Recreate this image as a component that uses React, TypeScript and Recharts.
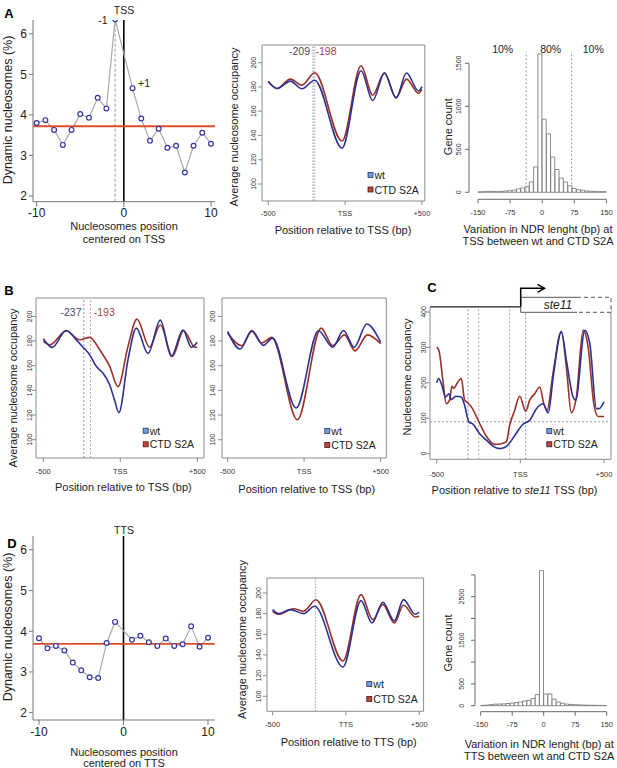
import React from 'react';
import { LineChart, BarChart, Line, Bar, XAxis, YAxis, ReferenceLine, ReferenceArea } from 'recharts';

const FONT = '"Liberation Sans", Arial, Helvetica, sans-serif';
const WT = '#2c3192';
const S2A = '#9a3027';
const MEAN = '#dc4b2c';
const BOX = '#8c8c8c';
const INK = '#333';
const DOT_BLUE = '#8a8ad4';
const DOT_RED = '#d69a90';

// dynamic nucleosomes (%) by nucleosome position around TSS / TTS
const nucPos = [-10, -9, -8, -7, -6, -5, -4, -3, -2, -1, 1, 2, 3, 4, 5, 6, 7, 8, 9, 10];
const dynTss = [3.8, 3.87, 3.63, 3.26, 3.63, 4.02, 3.93, 4.42, 4.16, 6.36, 4.66, 3.91, 3.36, 3.66, 3.19, 3.24, 2.58, 3.24, 3.56, 3.29];
const dynTts = [3.83, 3.58, 3.64, 3.53, 3.23, 3.04, 2.87, 2.85, 3.71, 4.23, 3.79, 3.89, 3.73, 3.64, 3.82, 3.64, 3.68, 4.12, 3.62, 3.84];
const meanTss = 3.72;
const meanTts = 3.69;

// A: average occupancy around TSS
const tssPos = [-500, -443, -357, -281, -198, -20, 104, 180, 256, 332, 400, 478, 500];
const tssWt = [184.5, 178.7, 184.8, 178.5, 185.6, 129.6, 193.4, 168.8, 191.4, 171, 191.5, 176.7, 180.3];
const tssS2a = [184.5, 178.7, 186.5, 181.5, 191.7, 135.4, 197.5, 173.2, 191.7, 171, 186.5, 174.8, 178.1];

// B left
const b1WtPos = [-500, -442, -351, -286, -242, -200, -156, -113, -69, -37, -9, 50, 104, 180, 260, 331, 407, 461, 500];
const b1Wt = [181.9, 174.9, 188.6, 181, 175, 169, 159.5, 154, 144.6, 132, 122, 165, 190.5, 170, 197, 167.6, 189, 175, 179];
const b1S2aPos = [-500, -457, -351, -264, -199, -134, -69, -15, 50, 108, 190, 260, 338, 411, 485, 500];
const b1S2a = [179.7, 177, 188.4, 181, 183, 173, 159.5, 143, 175.7, 197.8, 175, 193, 167.6, 188.4, 175, 175];

// B right
const b2WtPos = [-500, -418, -342, -266, -207, -52, 94, 187, 257, 327, 410, 500];
const b2Wt = [187.8, 173.5, 188.6, 176.5, 182.4, 125.7, 188.4, 175, 188.6, 175, 193.8, 179];
const b2S2aPos = [-500, -407, -342, -277, -211, -44, 111, 187, 264, 333, 414, 500];
const b2S2a = [186.5, 176.2, 187.8, 178.4, 183, 116.2, 190.5, 176.2, 185, 172, 185, 177.8];

// C: ste11
const cWtPos = [-500, -489, -469, -447, -427, -413, -387, -353, -333, -307, -283, -243, -203, -164, -124, -94, -64, -24, 16, 56, 96, 136, 166, 199, 245, 275, 315, 331, 385, 415, 455, 470, 500];
const cWt = [200, 212, 193, 160, 169, 152, 162, 160, 136, 89, 83, 56, 38, 21, 14, 17, 30, 58, 83, 94, 127, 141, 115, 226, 344, 264, 160, 151, 348, 311, 127, 127, 146];
const cS2aPos = [-500, -487, -463, -443, -423, -409, -397, -379, -353, -333, -313, -293, -243, -203, -154, -114, -84, -64, -34, -4, 32, 56, 86, 116, 140, 160, 195, 245, 275, 305, 335, 375, 405, 439, 465, 500];
const cS2a = [301, 292, 207, 141, 151, 190, 184, 198, 212, 151, 143, 132, 85, 49, 26, 28, 33, 80, 122, 162, 120, 151, 169, 188, 141, 122, 226, 345, 245, 115, 160, 348, 301, 141, 105, 105];

// D: average occupancy around TTS
const ttsWtPos = [-500, -459, -379, -289, -214, -20, 103, 178, 252, 330, 393, 473, 500];
const ttsWt = [183.9, 180, 183.9, 180, 187.1, 128.4, 192.6, 171, 191, 173, 193.6, 179.4, 181.6];
const ttsS2aPos = [-500, -459, -357, -289, -204, -20, 103, 184, 252, 330, 393, 473, 500];
const ttsS2a = [182.3, 179.4, 184.8, 182.3, 193.5, 134.2, 198.4, 174.2, 189, 171, 188.1, 176.8, 177.4];

// histograms of NDR length variation (10 bp bins, centres)
const histBins = [-145, -135, -125, -115, -105, -95, -85, -75, -65, -55, -45, -35, -25, -15, -5, 5, 15, 25, 35, 45, 55, 65, 75, 85, 95, 105, 115, 125, 135, 145];
const histTss = [5, 8, 12, 10, 8, 10, 15, 18, 25, 40, 50, 70, 120, 295, 1610, 850, 680, 410, 265, 165, 120, 75, 45, 30, 25, 15, 12, 10, 8, 8];
const histTts = [8, 12, 25, 35, 38, 42, 50, 60, 72, 85, 110, 120, 165, 255, 3100, 270, 270, 150, 85, 55, 38, 28, 22, 18, 15, 12, 10, 8, 6, 5];
const tssCuts = [-37.5, 68.7];

const profTicks = [-500, 0, 500];
const histXTicks = [-150, -75, 0, 75, 150];

type Frame = { x0: number; x1: number; y0: number; y1: number; xd: [number, number]; yd: [number, number] };
type Mark = { x?: number; y?: number; color: string; dash: string };

const PAD = { l: 44, t: 20, r: 8, b: 34 };

function place(f: Frame) {
  return {
    style: { position: 'absolute' as const, left: f.x0 - PAD.l, top: f.y0 - PAD.t },
    width: f.x1 - f.x0 + PAD.l + PAD.r,
    height: f.y1 - f.y0 + PAD.t + PAD.b,
    margin: { top: PAD.t, right: PAD.r, bottom: 0, left: 0 },
  };
}

const pts = (xs: number[], ys: number[]) => xs.map((x, i) => ({ x, y: ys[i] }));

function rotTick(offset: number, size: number, show?: (v: number) => boolean) {
  return (p: any) => {
    const v = p.payload.value;
    if (show && !show(v)) return <g />;
    const x = p.x - offset;
    return (
      <text x={x} y={p.y} transform={`rotate(-90 ${x} ${p.y})`} textAnchor="middle" dy="0.35em" fontSize={size} fill={INK} fontFamily={FONT}>
        {v}
      </text>
    );
  };
}

const posLabel = (v: number, center: string) => (v === 0 ? center : v > 0 ? `+${v}` : `${v}`);

function ProfilePanel({ f, wt, s2a, center, yTicks, rotOff, xMargin, marks }: {
  f: Frame; wt: { x: number; y: number }[]; s2a: { x: number; y: number }[]; center: string;
  yTicks: number[]; rotOff: number; xMargin: number; marks: Mark[];
}) {
  const p = place(f);
  return (
    <div style={p.style}>
      <LineChart width={p.width} height={p.height} margin={p.margin}>
        <XAxis type="number" dataKey="x" domain={f.xd} allowDataOverflow ticks={profTicks} interval={0}
          height={PAD.b} axisLine={false} stroke={BOX} tickSize={4} tickMargin={xMargin}
          tickFormatter={(v: number) => posLabel(v, center)} tick={{ fontSize: 7.5, fill: INK, fontFamily: FONT }} />
        <YAxis type="number" domain={f.yd} allowDataOverflow ticks={yTicks} interval={0} width={PAD.l}
          axisLine={false} stroke={BOX} tickSize={4} tickMargin={2} tick={rotTick(rotOff, 7)} />
        <ReferenceArea x1={f.xd[0]} x2={f.xd[1]} y1={f.yd[0]} y2={f.yd[1]} fill="none" fillOpacity={0}
          stroke={BOX} strokeWidth={1} ifOverflow="visible" />
        {marks.map((m, i) =>
          m.x !== undefined ? (
            <ReferenceLine key={i} x={m.x} stroke={m.color} strokeDasharray={m.dash} strokeWidth={1} />
          ) : (
            <ReferenceLine key={i} y={m.y} stroke={m.color} strokeDasharray={m.dash} strokeWidth={1} />
          )
        )}
        <Line data={s2a} dataKey="y" type="monotone" stroke={S2A} strokeWidth={1.6} dot={false} isAnimationActive={false} />
        <Line data={wt} dataKey="y" type="monotone" stroke={WT} strokeWidth={1.6} dot={false} isAnimationActive={false} />
      </LineChart>
    </div>
  );
}

function DynPanel({ f, vals, mean, dash }: { f: Frame; vals: number[]; mean: number; dash: boolean }) {
  const p = place(f);
  const data = pts(nucPos, vals);
  return (
    <div style={p.style}>
      <LineChart data={data} width={p.width} height={p.height} margin={p.margin}>
        <XAxis type="number" dataKey="x" domain={f.xd} allowDataOverflow ticks={[-10, 0, 10]} interval={0}
          height={PAD.b} stroke="#777" tickSize={5} tickMargin={2} tick={{ fontSize: 12, fill: '#222', fontFamily: FONT }} />
        <YAxis type="number" domain={f.yd} allowDataOverflow ticks={[2, 3, 4, 5, 6]} interval={0} width={PAD.l}
          stroke="#777" tickSize={4} tickMargin={2} tick={{ fontSize: 12, fill: '#222', fontFamily: FONT }} />
        <ReferenceLine x={0} stroke="#000" strokeWidth={1.6} />
        {dash && (
          <ReferenceLine segment={[{ x: -1, y: f.yd[0] }, { x: -1, y: 6.25 }]} stroke="#999" strokeDasharray="3 2" ifOverflow="visible" />
        )}
        <Line dataKey="y" type="linear" stroke="#a9a9a9" strokeWidth={1.2} isAnimationActive={false}
          dot={{ r: 2.4, stroke: '#3535a8', strokeWidth: 1.2, fill: '#fff' }} />
        <ReferenceLine y={mean} stroke={MEAN} strokeWidth={1.8} />
      </LineChart>
    </div>
  );
}

function HistPanel({ f, counts, yTicks, yTop, rotOff, showY, cuts, cutTop }: {
  f: Frame; counts: number[]; yTicks: number[]; yTop: number; rotOff: number;
  showY: (v: number) => boolean; cuts: number[]; cutTop: number;
}) {
  const p = place(f);
  const data = histBins.map((x, i) => ({ x, n: counts[i] }));
  return (
    <div style={p.style}>
      <BarChart data={data} width={p.width} height={p.height} margin={p.margin} barCategoryGap={0} barGap={0}>
        <XAxis type="number" dataKey="x" domain={f.xd} allowDataOverflow ticks={histXTicks} interval={0}
          height={PAD.b} axisLine={false} stroke="#666" tickSize={4} tickMargin={6}
          tick={{ fontSize: 7.5, fill: INK, fontFamily: FONT }} />
        <YAxis type="number" domain={f.yd} allowDataOverflow ticks={yTicks} interval={0} width={PAD.l}
          axisLine={false} stroke="#666" tickSize={4} tickMargin={2} tick={rotTick(rotOff, 7, showY)} />
        <ReferenceLine segment={[{ x: -150, y: f.yd[0] }, { x: 150, y: f.yd[0] }]} stroke="#666" ifOverflow="visible" />
        <ReferenceLine segment={[{ x: f.xd[0], y: 0 }, { x: f.xd[0], y: yTop }]} stroke="#666" ifOverflow="visible" />
        <Bar dataKey="n" fill="#fff" stroke="#707070" strokeWidth={0.8} isAnimationActive={false} />
        {cuts.map((c) => (
          <ReferenceLine key={c} segment={[{ x: c, y: 0 }, { x: c, y: cutTop }]} stroke="#999" strokeDasharray="2 2" ifOverflow="visible" />
        ))}
      </BarChart>
    </div>
  );
}

const fDynA: Frame = { x0: 33, x1: 215, y0: 20, y1: 201.7, xd: [-10.42, 10.46], yd: [1.86, 6.34] };
const fDynD: Frame = { x0: 33.3, x1: 215, y0: 536, y1: 720, xd: [-10.71, 10.79], yd: [1.82, 6.34] };
const fProfA: Frame = { x0: 261.7, x1: 424.5, y0: 45, y1: 201, xd: [-541, 519], yd: [86, 214.6] };
const fProfB1: Frame = { x0: 36, x1: 204, y0: 298.3, y1: 458.3, xd: [-547.4, 543.5], yd: [85.2, 214.9] };
const fProfB2: Frame = { x0: 221.7, x1: 386, y0: 298.3, y1: 458.3, xd: [-536.6, 537.3], yd: [85.2, 214.9] };
const fProfC: Frame = { x0: 430, x1: 611, y0: 306.7, y1: 459, xd: [-540, 541.8], yd: [-16.1, 414.1] };
const fProfD: Frame = { x0: 266.7, x1: 423.3, y0: 577.7, y1: 711, xd: [-538.2, 530], yd: [85.5, 214.5] };
const fHistA: Frame = { x0: 469.3, x1: 614, y0: 40, y1: 199.3, xd: [-171, 167], yd: [-81.4, 1771] };
const fHistD: Frame = { x0: 475, x1: 614, y0: 565, y1: 711.7, xd: [-163.6, 167.4], yd: [-137.6, 3227] };

const occTicks = [100, 120, 140, 160, 180, 200];

function Txt({ x, y, children, size = 11, fill = '#222', anchor = 'middle', weight, style }: any) {
  return (
    <text x={x} y={y} fontSize={size} fill={fill} textAnchor={anchor} dominantBaseline="central"
      fontFamily={FONT} fontWeight={weight} fontStyle={style}>{children}</text>
  );
}

function RotTxt({ x, y, children, size = 11 }: any) {
  return (
    <text x={x} y={y} transform={`rotate(-90 ${x} ${y})`} fontSize={size} fill="#222" textAnchor="middle"
      dominantBaseline="central" fontFamily={FONT}>{children}</text>
  );
}

function Legend2({ x, y1, y2 }: { x: number; y1: number; y2: number }) {
  return (
    <g>
      <rect x={x - 2.5} y={y1 - 2.5} width={5} height={5} fill="#6f9fe0" stroke="#23305e" strokeWidth={0.8} />
      <rect x={x - 2.5} y={y2 - 2.5} width={5} height={5} fill="#b4493b" stroke="#4a1a15" strokeWidth={0.8} />
      <Txt x={x + 4} y={y1} size={10.5} anchor="start">wt</Txt>
      <Txt x={x + 4} y={y2} size={10.5} anchor="start">CTD S2A</Txt>
    </g>
  );
}

function Overlay() {
  return (
    <svg width={617} height={768} style={{ position: 'absolute', left: 0, top: 0, pointerEvents: 'none' }}>
      {/* panel letters */}
      <Txt x={9} y={13} size={13} weight="bold" fill="#000">A</Txt>
      <Txt x={9} y={290} size={13} weight="bold" fill="#000">B</Txt>
      <Txt x={432} y={287} size={13} weight="bold" fill="#000">C</Txt>
      <Txt x={12} y={543} size={13} weight="bold" fill="#000">D</Txt>

      {/* A left */}
      <Txt x={124} y={10} size={10.5}>TSS</Txt>
      <Txt x={103} y={20} size={10.5}>-1</Txt>
      <Txt x={144} y={83} size={10.5}>+1</Txt>
      <RotTxt x={7.5} y={110} size={12.5}>Dynamic nucleosomes (%)</RotTxt>
      <Txt x={124} y={226}>Nucleosomes position</Txt>
      <Txt x={124} y={238.5}>centered on TSS</Txt>

      {/* A middle */}
      <RotTxt x={234} y={127}>Average nucleosome occupancy</RotTxt>
      <Txt x={343} y={230}>Position relative to TSS (bp)</Txt>
      <Txt x={299.5} y={51} size={10.5} fill="#3d4a78">-209</Txt>
      <Txt x={326} y={51} size={10.5} fill="#9c4a44">-198</Txt>
      <Legend2 x={370.5} y1={175} y2={189.5} />

      {/* A right */}
      <Txt x={502.7} y={49.3} size={10.5}>10%</Txt>
      <Txt x={550.7} y={49.3} size={10.5}>80%</Txt>
      <Txt x={593.3} y={49.3} size={10.5}>10%</Txt>
      <RotTxt x={448.3} y={126.7}>Gene count</RotTxt>
      <Txt x={538} y={229}>Variation in NDR lenght (bp) at</Txt>
      <Txt x={538} y={240.5}>TSS between wt and CTD S2A</Txt>

      {/* B */}
      <Txt x={71} y={311.7} size={10.5} fill="#3d4a78">-237</Txt>
      <Txt x={104.3} y={311.7} size={10.5} fill="#9c4a44">-193</Txt>
      <RotTxt x={12.7} y={388}>Average nucleosome occupancy</RotTxt>
      <Txt x={123.3} y={486.7}>Position relative to TSS (bp)</Txt>
      <Legend2 x={145.7} y1={430.7} y2={444.3} />
      <Txt x={306.7} y={489.3}>Position relative to TSS (bp)</Txt>
      <Legend2 x={327.3} y1={431} y2={445} />

      {/* C */}
      <RotTxt x={406.7} y={377}>Nucleosome occupancy</RotTxt>
      <text x={514.5} y={490} fontSize={11} fill="#222" textAnchor="middle" dominantBaseline="central" fontFamily={FONT}>
        Position relative to <tspan fontStyle="italic">ste11</tspan> TSS (bp)
      </text>
      <Legend2 x={549.3} y1={431} y2={444.3} />
      <line x1={430} y1={306.7} x2={520.7} y2={306.7} stroke="#555" strokeWidth={1.6} />
      <rect x={520.7} y={297.3} width={90.3} height={15} fill="#fff" stroke="none" />
      <polyline points="577,297.3 520.7,297.3 520.7,312.3 577,312.3" fill="none" stroke="#555" strokeWidth={1} />
      <polyline points="577,297.3 611,297.3 611,312.3 577,312.3" fill="none" stroke="#555" strokeWidth={1} strokeDasharray="4 3" />
      <Txt x={558} y={305.3} size={12} style="italic">ste11</Txt>
      <polyline points="520.7,306.7 520.7,288.3 544,288.3" fill="none" stroke="#000" strokeWidth={1.5} />
      <polyline points="537.5,284.3 544.5,288.3 537.5,292.3" fill="none" stroke="#000" strokeWidth={1.5} />

      {/* D left */}
      <Txt x={124} y={530} size={10.5}>TTS</Txt>
      <RotTxt x={7.5} y={627} size={12.5}>Dynamic nucleosomes (%)</RotTxt>
      <Txt x={124} y={751.7}>Nucleosomes position</Txt>
      <Txt x={124} y={763.3}>centered on TTS</Txt>

      {/* D middle */}
      <RotTxt x={241.7} y={639.5}>Average nucleosome occupancy</RotTxt>
      <Txt x={348.7} y={741.7}>Position relative to TTS (bp)</Txt>
      <Legend2 x={369.3} y1={684} y2={699} />

      {/* D right */}
      <RotTxt x={448.3} y={643}>Gene count</RotTxt>
      <Txt x={539.2} y={744}>Variation in NDR lenght (bp) at</Txt>
      <Txt x={539.2} y={755.5}>TTS between wt and CTD S2A</Txt>
    </svg>
  );
}

export default function App() {
  return (
    <div style={{ position: 'absolute', left: 0, top: 0, width: 617, height: 768, background: '#fff', fontFamily: FONT, overflow: 'hidden' }}>
      <DynPanel f={fDynA} vals={dynTss} mean={meanTss} dash />
      <ProfilePanel f={fProfA} wt={pts(tssPos, tssWt)} s2a={pts(tssPos, tssS2a)} center="TSS" yTicks={occTicks}
        rotOff={2.7} xMargin={6}
        marks={[{ x: -209, color: DOT_BLUE, dash: '1.5 1.5' }, { x: -198, color: DOT_RED, dash: '1.5 1.5' }]} />
      <HistPanel f={fHistA} counts={histTss} yTicks={[0, 500, 1000, 1500]} yTop={1500} rotOff={4}
        showY={() => true} cuts={tssCuts} cutTop={1635} />

      <ProfilePanel f={fProfB1} wt={pts(b1WtPos, b1Wt)} s2a={pts(b1S2aPos, b1S2a)} center="TSS" yTicks={occTicks}
        rotOff={0} xMargin={6.5}
        marks={[{ x: -237, color: DOT_BLUE, dash: '2 2' }, { x: -193, color: DOT_RED, dash: '2 2' }]} />
      <ProfilePanel f={fProfB2} wt={pts(b2WtPos, b2Wt)} s2a={pts(b2S2aPos, b2S2a)} center="TSS" yTicks={occTicks}
        rotOff={3.7} xMargin={6.5} marks={[]} />
      <ProfilePanel f={fProfC} wt={pts(cWtPos, cWt)} s2a={pts(cS2aPos, cS2a)} center="TSS" yTicks={[0, 100, 200, 300, 400]}
        rotOff={0} xMargin={8}
        marks={[
          { x: -313, color: DOT_BLUE, dash: '2 2' }, { x: 32, color: DOT_BLUE, dash: '2 2' },
          { x: -249, color: DOT_RED, dash: '2 2' }, { x: -64, color: DOT_RED, dash: '2 2' },
          { y: 90, color: '#999', dash: '2 2' },
        ]} />

      <DynPanel f={fDynD} vals={dynTts} mean={meanTts} dash={false} />
      <ProfilePanel f={fProfD} wt={pts(ttsWtPos, ttsWt)} s2a={pts(ttsS2aPos, ttsS2a)} center="TTS" yTicks={occTicks}
        rotOff={2.7} xMargin={6.5} marks={[{ x: -209, color: '#9a8fd0', dash: '1.5 1.5' }]} />
      <HistPanel f={fHistD} counts={histTts} yTicks={[0, 500, 1000, 1500, 2000, 2500, 3000]} yTop={3000} rotOff={7}
        showY={(v) => v === 0 || v === 500 || v === 1500 || v === 2500} cuts={[]} cutTop={0} />

      <Overlay />
    </div>
  );
}
